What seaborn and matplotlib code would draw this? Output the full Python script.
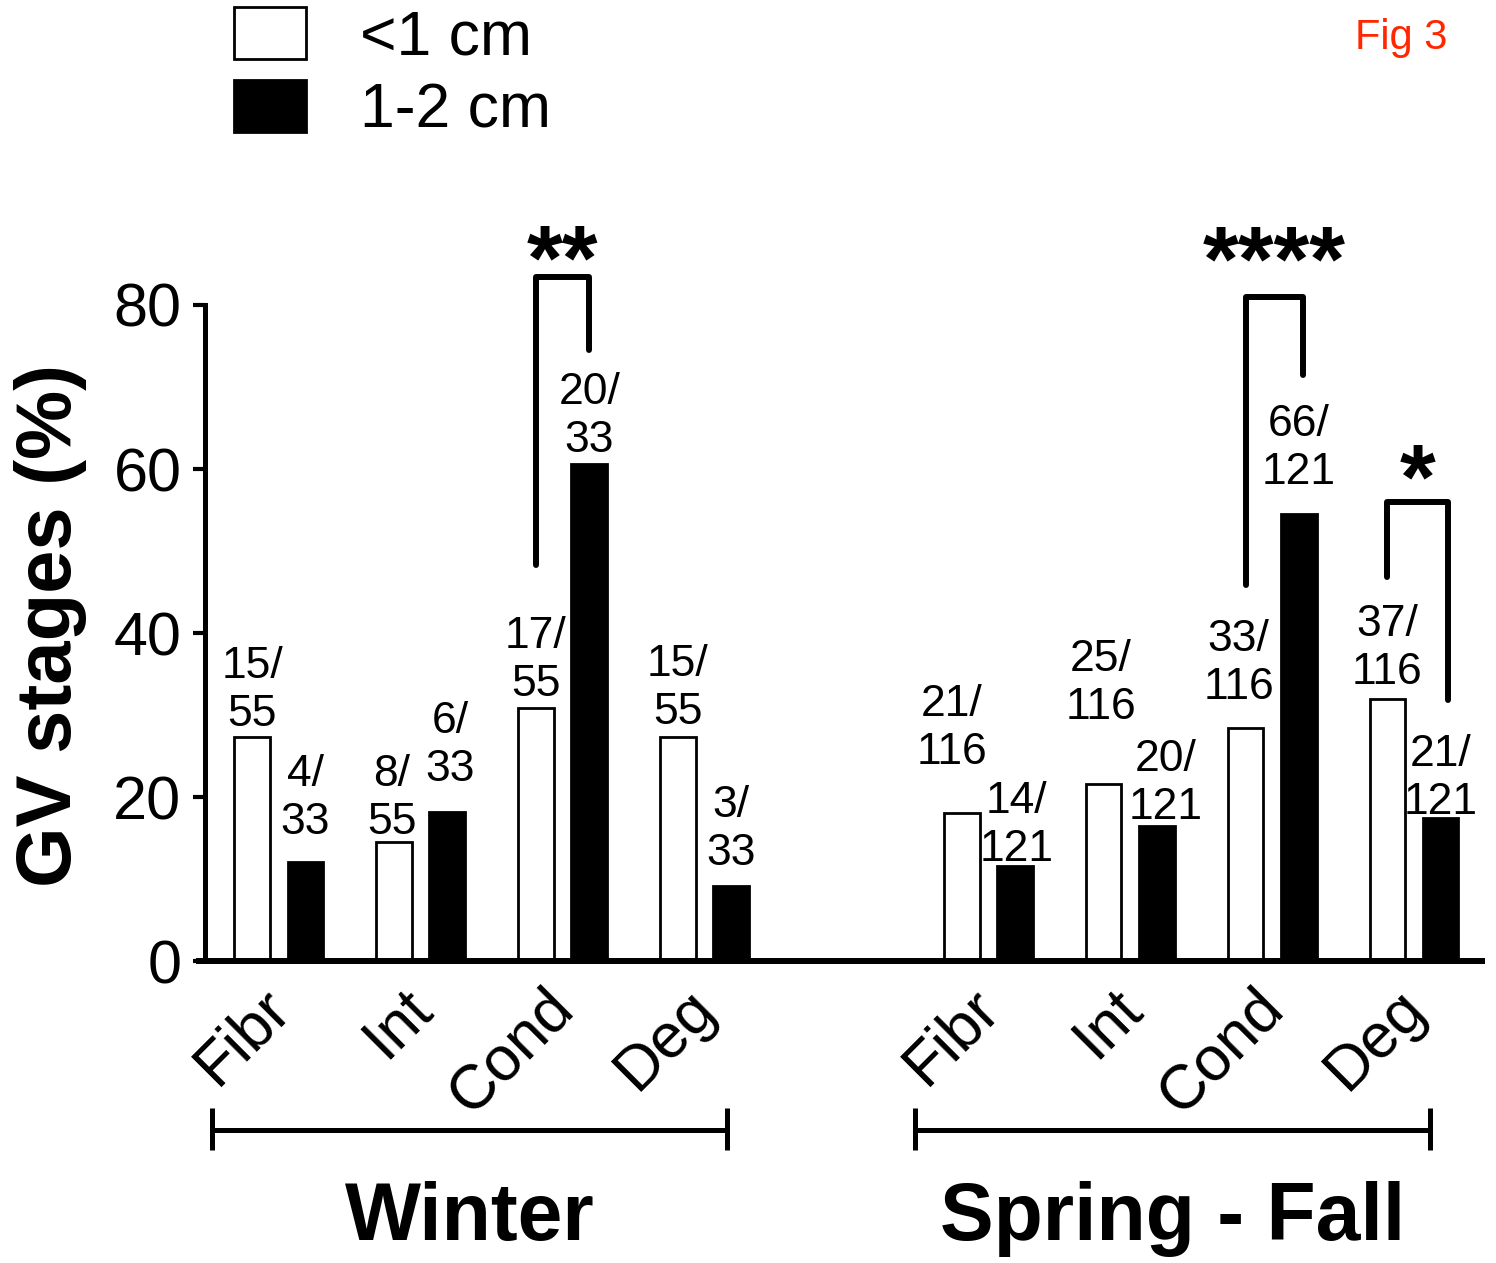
import numpy as np
import pandas as pd
import matplotlib
matplotlib.use("Agg")
import matplotlib.pyplot as plt
from matplotlib.transforms import ScaledTranslation
import seaborn as sns

sns.set_style("ticks")
plt.rcParams["font.family"] = ["Liberation Sans", "DejaVu Sans"]
plt.rcParams.update({"text.color": "black", "axes.labelcolor": "black",
                     "xtick.color": "black", "ytick.color": "black",
                     "axes.edgecolor": "black"})

# data
stages = ["Fibr", "Int", "Cond", "Deg"]
seasons = ["Winter", "Spring - Fall"]
sizes = ["<1 cm", "1-2 cm"]

small_pct = [27.3, 14.5, 30.9, 27.3, 18.1, 21.6, 28.4, 31.9]
large_pct = [12.1, 18.2, 60.6, 9.1, 11.6, 16.5, 54.5, 17.4]
small_k = [15, 8, 17, 15, 21, 25, 33, 37]
small_tot = [55, 55, 55, 55, 116, 116, 116, 116]
large_k = [4, 6, 20, 3, 14, 20, 66, 21]
large_tot = [33, 33, 33, 33, 121, 121, 121, 121]

# significance: (season, stage, stars)
sig = [("Winter", "Cond", "**"), ("Spring - Fall", "Cond", "****"), ("Spring - Fall", "Deg", "*")]

rows = []
for i, season in enumerate(seasons):
    for j, st in enumerate(stages):
        idx = i * 4 + j
        key = f"{season}|{st}"
        rows.append({"cat": key, "size": sizes[0], "pct": small_pct[idx]})
        rows.append({"cat": key, "size": sizes[1], "pct": large_pct[idx]})
df = pd.DataFrame(rows)
order = [f"Winter|{s}" for s in stages] + ["gap"] + [f"Spring - Fall|{s}" for s in stages]

W, H = 1496, 1263
fig = plt.figure(figsize=(W / 100, H / 100), dpi=100)
ax = fig.add_axes([205 / W, 302 / H, 1280 / W, 656 / H])

sns.barplot(data=df, x="cat", y="pct", hue="size", order=order, hue_order=sizes,
            palette=["white", "black"], edgecolor="black", linewidth=2,
            width=0.75, gap=0.33, saturation=1, ax=ax)

ax.set_xlim(-0.52, 8.5)
ax.set_ylim(0, 80)
ax.set_yticks([0, 20, 40, 60, 80])
ax.tick_params(axis="y", labelsize=44, length=9, width=3, pad=8)
ax.set_xticks(range(9))
ax.set_xticklabels(stages + [""] + stages, rotation=45, ha="right",
                   rotation_mode="anchor", fontsize=45)
ax.tick_params(axis="x", length=0, pad=12)
shift = ScaledTranslation(-0.19, 0.0, fig.dpi_scale_trans)
for lab in ax.get_xticklabels():
    lab.set_transform(lab.get_transform() + shift)
ax.set_xlabel("")
ax.set_ylabel("GV stages (%)", fontsize=56, fontweight="bold")
ax.yaxis.set_label_coords(-0.092, 0.512)
sns.despine(ax=ax)
ax.spines["left"].set_linewidth(3.6)
ax.spines["bottom"].set_linewidth(4.3)
ax.spines["bottom"].set_bounds(-0.58, 8.5)
ax.spines["bottom"].set_capstyle("butt")

# value labels (count / total) above bars
small_bars = ax.containers[0]
large_bars = ax.containers[1]
small_lift = [2, -1, 3, 4, 40, 56, 20, 6]
large_lift = [19, 22, 3, 12, -4, -2, 21, -5]
small_shift = [0, -2, 0, 0, -10, -3, -7, 0]
large_shift = [0, 3, 0, 0, 2, 9, 0, 0]
for bars, ks, ns, lift, dxs in [(small_bars, small_k, small_tot, small_lift, small_shift),
                                (large_bars, large_k, large_tot, large_lift, large_shift)]:
    for b, k, n, dy, dx in zip(bars, ks, ns, lift, dxs):
        ax.annotate(f"{k}/\n{n}", (b.get_x() + b.get_width() / 2, b.get_height()),
                    xytext=(dx, dy), textcoords="offset pixels", ha="center", va="bottom",
                    multialignment="center", fontsize=32, linespacing=1.22,
                    annotation_clip=False)

# significance brackets
bracket_top = {"**": 83.4, "****": 81.0, "*": 56.0}
bracket_left = {"**": 48.3, "****": 45.9, "*": 46.8}
bracket_right = {"**": 74.5, "****": 71.5, "*": 31.8}
star_y = {"**": 81.9, "****": 81.8, "*": 55.2}
bracket_dx = {"**": 0.0, "****": 0.03, "*": 0.05}
for season, st, stars in sig:
    idx = seasons.index(season) * 4 + stages.index(st)
    b0, b1 = small_bars[idx], large_bars[idx]
    x0 = b0.get_x() + b0.get_width() / 2
    x1 = b1.get_x() + b1.get_width() / 2 + bracket_dx[stars]
    top = bracket_top[stars]
    ax.plot([x0, x0, x1, x1], [bracket_left[stars], top, top, bracket_right[stars]],
            color="black", lw=4.3, clip_on=False, solid_joinstyle="round",
            solid_capstyle="round")
    ax.text((x0 + x1) / 2, star_y[stars], stars, ha="center", va="baseline",
            fontsize=66, fontweight="bold")

# season group lines and labels
group_span = {"Winter": (-0.468, 3.158), "Spring - Fall": (4.482, 8.109)}
for season in seasons:
    xa, xb = group_span[season]
    ax.plot([xa, xb], [-20.6, -20.6], color="black", lw=3.6, clip_on=False,
            solid_capstyle="butt")
    for xe in (xa, xb):
        ax.plot([xe, xe], [-17.9, -23.0], color="black", lw=3.6, clip_on=False,
                solid_capstyle="butt")
    ax.text((xa + xb) / 2, -34.0, season, ha="center", va="baseline",
            fontsize=58, fontweight="bold")

# legend
handles, labels = ax.get_legend_handles_labels()
ax.legend(handles, labels, loc="upper left", bbox_to_anchor=(234 / W, 1 - 7 / H),
          bbox_transform=fig.transFigure, frameon=False, fontsize=45,
          handlelength=1.15, handleheight=0.9, handletextpad=0.86,
          labelspacing=0.2, borderpad=0, borderaxespad=0)

fig.text(1447 / W, 1 - 38 / H, "Fig 3", color="#ff2600", fontsize=30,
         ha="right", va="center")

fig.savefig("out.png", dpi=100)
